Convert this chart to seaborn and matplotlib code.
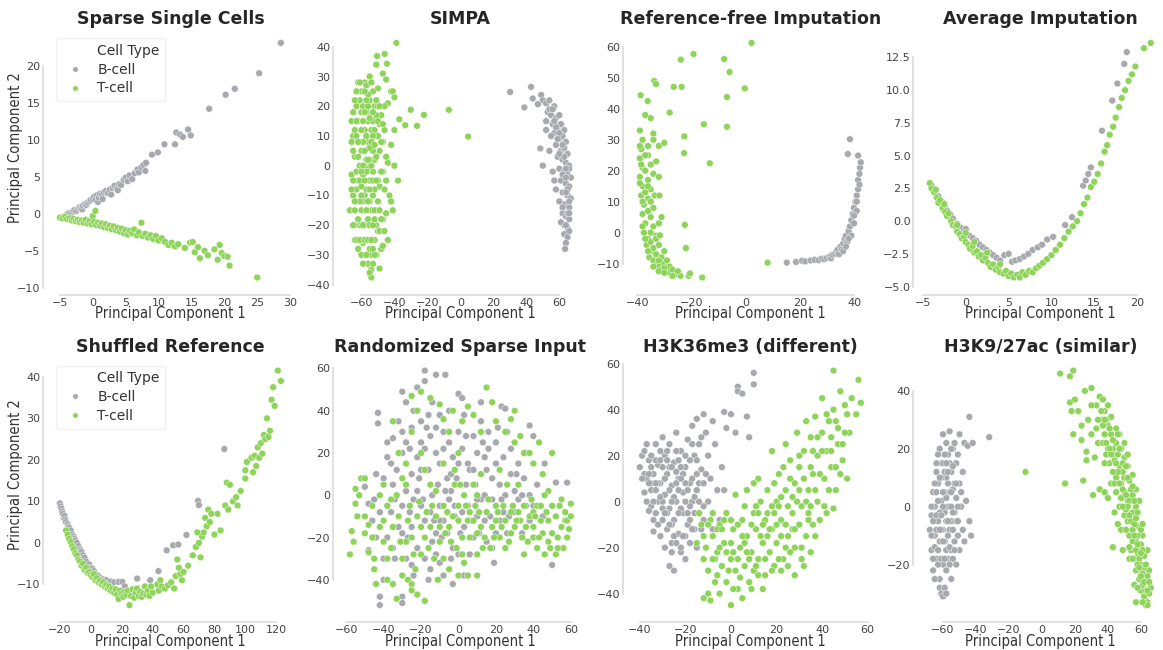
import matplotlib
matplotlib.use("Agg")
import matplotlib.pyplot as plt
import pandas as pd
import seaborn as sns
from matplotlib.lines import Line2D
from matplotlib.ticker import MultipleLocator

# ---- values (PC1, PC2) ----
titles = [
    "Sparse Single Cells", "SIMPA", "Reference-free Imputation", "Average Imputation",
    "Shuffled Reference", "Randomized Sparse Input", "H3K36me3 (different)", "H3K9/27ac (similar)",
]
cell_types = ["B-cell", "T-cell"]
x_steps = [5, 20, 20, 5, 20, 20, 20, 20]
y_steps = [5, 10, 10, 2.5, 10, 20, 20, 20]

sparse_b = [(-4.6,-0.4),(-4.2,-0.3),(-3.9,-0.1),(-3.6,0.1),(-3.3,0.0),(-3.0,0.3),(-2.8,0.5),(-2.5,0.4),
    (-2.2,0.7),(-2.0,0.9),(-1.8,0.8),(-1.6,0.6),(-1.5,1.1),(-1.2,1.3),(-1.0,1.2),(-0.8,1.5),(-0.5,1.7),
    (-0.3,1.9),(0.0,2.0),(0.2,2.3),(0.4,1.9),(0.6,2.5),(0.8,1.6),(0.9,2.2),(1.1,2.7),(1.4,2.6),(1.5,2.0),
    (1.7,2.9),(2.0,3.1),(2.3,2.8),(2.6,3.3),(2.8,2.6),(3.0,3.5),(3.3,3.8),(3.6,3.4),(3.8,3.2),(4.0,4.0),
    (4.3,3.9),(4.7,4.6),(5.0,4.9),(5.3,4.4),(5.6,5.2),(6.0,4.7),(6.4,5.5),(6.8,6.0),(7.0,5.6),(7.4,6.3),
    (7.7,6.6),(8.0,5.8),(8.1,6.9),(9.0,8.0),(9.9,8.3),(10.9,9.4),(12.5,9.4),(12.7,11.0),(13.3,10.7),
    (13.7,10.4),(14.5,11.4),(14.9,10.6),(17.7,14.2),(20.2,16.1),(21.6,16.9),(25.3,19.0),(28.6,23.1)]
sparse_t = [(-5.0,-0.5),(-4.6,-0.6),(-4.2,-0.4),(-3.9,-0.7),(-3.5,-0.6),(-3.2,-0.9),(-2.9,-0.7),(-2.6,-1.0),
    (-2.3,-0.8),(-2.0,-1.1),(-1.7,-0.9),(-1.4,-1.2),(-1.1,-0.8),(-0.8,-1.3),(-0.5,-1.0),(-0.2,-1.4),
    (0.0,-0.3),(0.2,-1.1),(0.4,0.4),(0.5,-1.5),(0.8,-1.2),(1.1,-1.6),(1.4,-1.3),(1.7,-1.8),(2.0,-1.4),
    (2.3,-1.9),(2.6,-1.6),(2.9,-2.1),(3.2,-1.7),(3.5,-2.2),(3.8,-1.9),(4.1,-2.4),(4.4,-2.0),(4.7,-2.6),
    (5.0,-2.2),(5.3,-2.8),(5.6,-2.3),(6.0,-2.6),(6.3,-2.1),(6.7,-2.9),(7.0,-2.5),(7.4,-1.2),(7.6,-3.0),
    (8.0,-2.7),(8.4,-3.2),(8.8,-2.9),(9.2,-3.4),(9.6,-3.0),(10.0,-3.6),(10.5,-3.3),(11.0,-3.8),(11.5,-4.2),
    (12.0,-3.9),(12.5,-4.4),(13.0,-4.1),(14.0,-4.6),(14.8,-3.9),(15.2,-3.8),(15.5,-5.2),(16.0,-4.5),
    (16.3,-6.0),(17.0,-5.0),(17.5,-5.6),(18.5,-4.8),(19.0,-6.2),(19.3,-4.2),(19.6,-5.3),(20.0,-5.7),
    (20.5,-5.8),(20.8,-7.0),(25.0,-8.6)]

simpa_b = [(30.2,24.8),(42.9,26.5),(38.8,19.6),(43.9,22.6),(47,20.7),(49,23.8),(50,22),(52,21),(54,22),
    (57,20),(53,18),(55,17),(58,16),(60,17),(56,14),(59,13),(61,14),(63,12),(57,11),(60,9),(62,10),(64,8),
    (58,7),(61,5),(63,6),(65,4),(59,3),(62,2),(64,1),(66,0),(60,-1),(63,-2),(65,-3),(67,-4),(61,-5),(64,-6),
    (66,-7),(62,-9),(65,-10),(67,-11),(63,-13),(66,-14),(62,-16),(64,-17),(66,-18),(63,-20),(65,-21),
    (63,-23),(65,-24),(64,-26),(63.5,-28),(48.5,5.8),(50,0),(52,12),(54,5),(56,-2),(58,-8),(60,-12),
    (52,15),(55,10),(57,-5),(61,-19),(66,-1),(54,19),(56,19),(58,13),(60,11),(62,7),(63,3),(64,-1),(65,-8),
    (66,-12),(64,-9),(62,-14),(65,-16),(64,-20),(66,-22),(62,-3),(60,4),(59,9),(57,15),(64,-4),(66,-16)]
simpa_t = [(-65,10),(-66,-3),(-67,-15),(-64,3),(-63,-8),(-62,15),(-61,-20),(-60,25),(-60,5),(-59,-12),
    (-58,28),(-58,0),(-57,-25),(-57,18),(-56,8),(-56,-18),(-55,-5),(-55,22),(-54,12),(-54,-30),(-53,-2),
    (-53,-10),(-52,20),(-52,2),(-51,-15),(-51,10),(-50,-22),(-50,26),(-49,5),(-49,-7),(-48,17),(-47,-2),
    (-46,12),(-45,-16),(-44,21),(-44,1),(-43,-10),(-42,25),(-42,7),(-41,-15),(-40,0),(-40,12),(-62,-28),
    (-63,20),(-64,-20),(-65,-10),(-61,0),(-59,-3),(-58,12),(-57,-8),(-56,-33),(-55,30),(-54,-35),(-53,5),
    (-52,-25),(-51,17),(-50,-5),(-49,14),(-48,-28),(-47,8),(-46,-8),(-45,3),(-61,8),(-60,-15),(-59,20),
    (-58,-20),(-57,2),(-56,15),(-55,-12),(-54,-20),(-53,25),(-52,-8),(-51,3),(-50,10),(-62,-5),(-60,-7),
    (-59,8),(-58,-30),(-57,27),(-56,-1),(-55,6),(-54,-15),(-53,18),(-52,12),(-51,-30),(-63,-2),(-64,12),
    (-61,-12),(-60,18),(-59,-26),(-58,5),(-57,-15),(-56,24),(-66,15),(-65,-20),(-64,-25),(-63,25),(-62,28),
    (-61,22),(-60,-25),(-59,-33),(-58,-10),(-57,10),(-56,-12),(-55,-20),(-54,0),(-53,15),(-52,-15),
    (-51,-20),(-50,20),(-49,-15),(-48,8),(-47,-18),(-46,20),(-45,-5),(-62,3),(-61,-5),(-60,12),(-59,0),
    (-58,-5),(-57,-2),(-56,20),(-55,-28),(-54,28),(-53,-20),(-52,-30),(-64,-12),(-65,5),(-63,15),(-60,-2),
    (-58,18),(-55,2),(-53,10),(-66,8),(-66,-8),(-65,-5),(-65,18),(-64,-15),(-64,22),(-63,10),(-63,-25),
    (-62,-18),(-62,8),(-61,-25),(-61,28),(-60,-10),(-60,-30),(-59,15),(-59,-20),(-58,-25),(-58,25),
    (-57,-30),(-57,22),(-56,-25),(-56,2),(-55,16),(-55,-8),(-54,-25),(-54,8),(-53,-28),(-53,-5),(-52,-18),
    (-52,7),(-51,-5),(-51,22),(-50,-12),(-50,15),(-49,-22),(-49,20),(-48,-2),(-48,-18),(-47,14),(-46,-22),
    (-38.8,41.3),(-45.9,37.6),(-50.5,36.9),(-44.5,34.3),(-51,34),(-47,31),
    (-45,29),(-41,25),(-40,23),(-37,15.6),(-33.4,13.6),(-30.1,18.8),(-26.3,13.4),(-22.1,17.1),(-7,18.8),
    (4.7,9.8),(-37.8,-5),(-42,-12),(-44,-25),(-47,-27),(-49,-34.6),(-54,-37.6),(-55,-36),(-53,-33)]

reffree_b = [(15.2,-9.7),(18.6,-9.5),(20.8,-9.1),(22,-9.3),(24,-9.0),(25.5,-8.8),(27,-8.9),(28,-8.4),
    (29,-8.6),(30,-8.2),(31,-7.8),(31.5,-8.3),(32,-7.2),(33,-6.8),(33.5,-6),(34,-5.5),(34.5,-7),(35,-4.5),
    (35.5,-5.5),(36,-3.5),(36.5,-2),(37,-1),(37.5,-3),(38,0.5),(38.5,2),(39,-1),(39,4),(39.5,6),(40,8),
    (40,3),(40.5,10),(41,12),(41,7),(41.5,14),(41.5,17),(42,19),(42,15.5),(42.2,21),(41,10),(40,5.5),
    (38.5,30.2),(37.7,25.4),(41.5,24.9),(42.5,22.7),(36,-6),(37,-4.5),(38,-2)]
reffree_t = [(-38,30),(-38.5,27),(-39,24),(-38,21),(-39,18),(-38,15),(-38.5,12),(-37.5,9),(-38,6),(-37,3),
    (-37.5,0),(-36,-2),(-36.5,-4),(-35,-6),(-35.5,-8),(-34,-9),(-33,-10.5),(-32,-11),(-31,-12),(-29,-12.5),
    (-28,-13),(-26,-13.5),(-24,-14),(-21,-14),(-20.5,-13.2),(-16,-14.5),(-36,28),(-36,25),(-35,22),(-34,19),
    (-36,17),(-35,14),(-36,11),(-34,8),(-35,5),(-34,2),(-33,-1),(-32,-4),(-33,-7),(-31,-8),(-30,-10),
    (-28,-11),(-27,-12),(-37,20),(-37,13),(-36,7),(-35,-3),(-34,-5),(-32,-9),(-30,-11.5),(-25,-12.5),
    (-33,23),(-32,18),(-34,32),(-34,30),(-33.5,12),(-31,5),(-32,3),(-33,-2),(-30,-6),(-29,-9),(-39,33),
    (-39,28),(-38.5,22),(-39,16),(-38,10),(-38,2),(-37,-2),(-36,-6),(-34,-11),(-32,-12.5),(-30,-13),
    (-27,-14),(-37,25),(-36,15),(-35,10),(-35,0),
    (-38.7,44.4),(-36.1,42.5),(-37,38),(-35,37),(-33.7,49),(-33,48),(-32,28),(-30,29),(-31.8,12),
    (-31.6,-0.9),(-28,38.8),(-26.5,47.1),(-23.6,47.1),(-23.9,55.9),(-19.2,57.7),(-22.6,31.1),(-22.7,25.7),
    (-22.4,2.5),(-22,-5),(-15.4,35),(-13.2,22.4),(-7.9,56.1),(-5.9,51.9),(-6.9,43.8),(-6.9,34.2),
    (-0.3,46.6),(2.2,61.3),(8.1,-9.7)]

average_b = [(-4.0,2.7),(-3.6,2.4),(-3.2,1.9),(-2.8,1.5),(-2.5,1.1),(-2.2,0.8),(-1.8,0.5),(-1.5,0.2),
    (-1.0,-0.2),(-0.6,-0.5),(-0.3,-0.8),(0.0,-0.6),(0.4,-1.1),(0.8,-1.3),(1.2,-1.5),(1.6,-1.8),(2.0,-2.0),
    (2.4,-2.2),(2.8,-2.4),(3.2,-2.6),(3.6,-2.8),(4.0,-3.0),(4.5,-2.6),(5.0,-2.5),(5.4,-3.1),(5.8,-3.0),
    (6.3,-2.9),(6.8,-2.7),(7.3,-2.5),(7.8,-2.2),(8.4,-2.0),(8.9,-1.8),(9.5,-1.4),(10.2,-1.2),(11.6,-0.3),
    (12.4,0.3),(13.7,2.7),(14.0,3.1),(14.3,3.6),(14.6,4.1),(15.9,6.9),(17.1,9.2),(17.7,10.5),(18.5,12.0),
    (18.8,12.9)]
average_t = [(-4.2,2.9),(-4.0,2.5),(-3.7,2.2),(-3.5,2.4),(-3.4,1.8),(-3.2,1.4),(-3.0,1.6),(-2.7,1.0),
    (-2.5,1.3),(-2.4,0.7),(-2.2,0.4),(-2.0,0.6),(-1.7,0.0),(-1.5,-0.3),(-1.2,-0.4),(-1.0,-0.8),(-1.0,-0.3),
    (-0.7,-1.0),(-0.5,-1.3),(-0.2,-1.2),(0.0,-1.6),(0.0,-0.9),(0.3,-1.8),(0.5,-2.1),(0.8,-1.9),(1.0,-2.4),
    (1.0,-1.6),(1.3,-2.3),(1.5,-2.7),(1.8,-2.6),(2.0,-3.0),(2.3,-2.8),(2.5,-2.4),(2.6,-3.2),(2.9,-3.5),
    (3.2,-3.3),(3.5,-3.7),(3.8,-3.5),(4.0,-3.9),(4.0,-3.3),(4.4,-4.0),(4.7,-3.8),(5.0,-4.2),(5.3,-4.0),
    (5.6,-4.3),(6.0,-4.1),(6.3,-4.3),(6.6,-3.9),(7.0,-4.1),(7.4,-3.8),(7.8,-3.9),(8.2,-3.6),(8.6,-3.4),
    (9.0,-3.2),(9.5,-2.9),(10.0,-2.6),(10.5,-2.2),(11.0,-1.8),(11.5,-1.3),(12.0,-0.8),(12.5,-0.4),
    (13.0,0.0),(13.4,0.6),(13.8,1.3),(14.2,1.8),(14.6,2.6),(15.0,3.0),(15.4,3.6),(15.8,4.4),(16.2,5.3),
    (16.5,5.8),(16.8,6.6),(17.2,7.2),(17.5,7.9),(17.9,8.7),(18.2,9.4),(18.6,10.0),(19.0,10.7),(19.4,11.2),
    (19.8,11.8),(20.8,13.2),(21.6,13.6)]

shuffled_b = [(-20,9.5),(-19.5,8.8),(-19,8.2),(-18.5,7.5),(-18,7.0),(-17.5,6.0),(-17,6.5),(-16.5,5.6),
    (-16,5.0),(-15,4.5),(-14.5,4.0),(-14,3.6),(-13,3.0),(-12,2.0),(-11,1.5),(-10.5,1.0),(-10,0.6),(-9,0.0),
    (-8,-0.8),(-7,-1.5),(-6.5,-1.8),(-6,-2.2),(-5,-3.0),(-4,-3.6),(-3,-4.5),(-1,-5.2),(0,-6.0),(1,-6.2),
    (2,-6.8),(3,-7.5),(5,-8.0),(6,-8.5),(8,-8.8),(10,-9.0),(13,-9.3),(15,-9.5),(18,-9.4),(20.4,-9.4),
    (22,-10.5),(30,-8.6),(38.5,-9.0),(43.8,-6.8),(49.1,-1.8),(53.4,-0.6),(56.6,-0.4),(61.9,1.9),
    (69.4,10.1),(70.0,9.1),(86.4,22.6)]
shuffled_t = [(-16,3.0),(-15,2.0),(-14,1.0),(-13,0.2),(-12,-0.8),(-11,-1.5),(-10,-2.5),(-9,-3.0),(-8,-4.0),
    (-7,-4.5),(-6,-5.5),(-5,-5.0),(-4,-6.5),(-3,-6.0),(-2,-7.2),(-1,-7.0),(0,-7.8),(1,-8.2),(2,-7.5),
    (3,-9.0),(4,-8.5),(5,-9.5),(6,-9.2),(7,-10.0),(8,-9.5),(9,-10.5),(10,-10.2),(11,-11.0),(12,-10.5),
    (13,-11.5),(14,-11.0),(15,-12.0),(16,-11.2),(17,-12.5),(18,-13.5),(19,-11.5),(20,-12.2),(21,-13.0),
    (22,-11.8),(23,-12.5),(24,-11.5),(25,-15.0),(26,-12.8),(27,-11.2),(28,-13.2),(29,-12.0),(30,-11.0),
    (31,-12.8),(32,-11.8),(33,-13.0),(34,-12.2),(35,-10.5),(36,-12.5),(37,-11.5),(38,-12.8),(39,-10.5),
    (40,-12.0),(43,-10.0),(44,-11.5),(45,-9.0),(46,-10.5),(48,-11.0),(50,-10.2),(52,-9.5),(54,-11.0),
    (55,-8.0),(56,-4.0),(57,-6.0),(58,-7.5),(59,-9.0),(60,-7.0),(63,-5.5),(66,-3.0),(68,-1.0),(69,2.5),
    (70,0.0),(71,-3.5),(72,1.5),(73,2.5),(74,6.0),(75,4.0),(76,8.0),(77,5.0),(78,7.0),(80,2.0),(82,7.0),
    (84,3.0),(87,9.0),(88,14.5),(89,8.0),(90,14.0),(92,10.0),(94,11.0),(95,9.0),(97,12.5),(100,15.5),
    (100,17.5),(101,19.5),(104,20.5),(105,17.0),(106,21.0),(107,18.5),(108,23.0),(109,20.5),(110,24.0),
    (111,21.5),(112,26.0),(113,25.0),(114,30.0),(115,25.5),(116,27.0),(117,34.5),(118,37.5),(119,33.0),
    (121,41.5),(123,39.0)]

random_b = [(-43,39),(-43,34),(-30,49),(-22,51),(-18,59),(-12,57),(-7,57),(-18,54),(-28,44),(-14,44),(0,48),
    (2,46),(12,44),(23,42),(25,41),(38,33),(40,28),(46,15),(52,6),(-5,40),(-10,38),(-20,35),(-25,32),
    (-30,30),(-35,27),(-38,18),(-40,8),(-45,-2),(-48,-4),(-50,4),(-46,-12),(-44,-20),(-48,-26),(-42,-48),
    (-42,-52),(-30,-48),(-30,-51),(-25,-33),(-28,-30),(-35,-25),(-38,-20),(-32,-15),(-30,-5),(-28,2),
    (-25,10),(-22,18),(-20,25),(-18,22),(-15,28),(-12,20),(-10,15),(-8,30),(-5,25),(-3,18),(0,30),(2,22),
    (5,15),(8,28),(10,20),(13,25),(15,12),(18,8),(20,15),(22,5),(25,0),(28,10),(30,2),(32,-2),(35,8),
    (38,0),(40,-5),(42,5),(45,-10),(-20,-5),(-18,-12),(-15,-8),(-12,-18),(-10,-5),(-8,-12),(-5,-2),
    (-3,-25),(-2,-10),(0,-28),(3,-15),(5,-5),(8,-20),(10,-10),(12,-2),(15,-22),(18,-25),(20,-18),
    (-25,-15),(-22,-25),(-15,-35),(-12,-28),(-8,-38),(-3,-42),(3,-38),(-35,5),(-33,12),(-26,22),(-16,12),
    (-6,8),(4,5),(14,0),(24,-8),(34,-18),(50,-33),(58,6),(-24,-2),(-14,0),(-4,2),(6,12),(16,22),(26,30),
    (-36,-8),(-40,-30),(-38,25),(-32,35),(-28,25),(-24,40),(-20,12),(-16,38),(-12,32),(-8,22),(-4,10),
    (0,15),(4,28),(8,12),(12,35),(16,30),(20,25),(24,18),(28,22),(32,15),(36,20),(-34,-2),(-30,-18),
    (-26,-8),(-22,2),(-18,-30),(-14,-22),(-10,-12),(-6,-18),(-2,-5),(2,-8),(6,-28),(10,-2),(14,-12),
    (18,-2),(22,-12),(26,-18),(30,-8),(34,0),(38,-12),(-16,-40),(-10,-32),(-44,10),(-42,-8),(-40,-40),
    (-36,15),(-34,-30),(-30,20),(-27,-20),(-24,-38),(-21,8),(-19,-2),(-17,32),(-13,-12),(-11,5),(-9,-20),
    (-7,2),(-4,-30),(-1,8),(1,-18),(3,38),(7,-12),(9,5),(11,-18),(14,18),(17,-10),(19,-32),(21,32),(23,-2),
    (27,-10),(31,10),(36,-5)]
random_t = [(-57,-17),(-56,-22),(-58,-28),(-55,3),(-52,8),(-50,8),(-53,0),(-55,-4),(-50,-18),(-48,-27),
    (-45,-35),(-45,-30),(-40,-22),(-38,-30),(-35,-42),(-33,-49),(-27,-40),(-25,-42),(-22,-47),(-18,-50),
    (-25,-45),(-40,-12),(-38,-5),(-35,-15),(-33,0),(-30,8),(-28,15),(-32,20),(-35,35),(-25,30),(-22,40),
    (-25,47),(-20,49),(-15,46),(-10,43),(-8,36),(-5,30),(-3,40),(2,35),(5,42),(8,38),(12,30),(15,51),
    (18,44),(20,35),(25,30),(28,36),(30,25),(33,28),(35,20),(38,20),(40,15),(43,25),(45,10),(48,2),(50,-5),
    (52,-10),(55,-15),(57,-8),(58,-20),(60,-4),(56,-25),(53,-25),(48,-22),(45,-18),(42,-25),(40,-15),
    (38,-10),(35,-5),(33,-12),(30,-15),(28,-8),(25,-12),(22,-20),(20,-5),(18,-15),(15,-8),(12,-15),(10,0),
    (8,5),(5,-12),(3,0),(0,-5),(-2,5),(-5,-15),(-8,-5),(-10,-22),(-12,-10),(-15,-15),(-18,-20),(-20,-28),
    (-22,-10),(-25,-20),(-28,-22),(-30,-30),(-8,-30),(-5,-35),(0,-38),(5,-38),(10,-28),(-15,5),(-18,12),
    (-12,2),(-8,15),(-2,12),(2,-20),(12,10),(22,12),(32,5),(42,-5),(46,-28),(35,-28),(25,-25),(0,20),
    (-20,20),(-42,0),(-46,-5),(30,40),(50,20),(10,-38),(-50,-10),(-46,-20),(-42,-15),(-40,5),(-36,-25),
    (-32,-10),(-30,-38),(-28,5),(-26,-5),(-24,-28),(-20,-15),(-16,-25),(-14,-5),(-10,-15),(-6,-8),
    (-4,-22),(0,-12),(2,-28),(4,-5),(6,-20),(8,-12),(10,-18),(14,-20),(16,-2),(20,-12),(24,-5),(26,5),
    (28,-18),(32,-8),(36,-15),(40,-8),(44,-12),(48,-12),(50,-18),(54,-5),(57,-12),(59,-16),(46,0),
    (52,-28),(40,-20),(-54,-10),(-48,-14),(-44,-42),(-38,-40),(-36,-2),(-31,-22),(-27,-12),(-23,-35),
    (-21,-3),(-17,-8),(-13,-30),(-11,-40),(-7,-18),(-3,-10),(-1,-25),(1,5),(3,-32),(6,-8),(9,-5),(11,-8),
    (13,-25),(17,-25),(19,-20),(21,-8),(23,-15),(27,-22),(29,-5),(31,-12),(34,-20),(37,-22),(39,-2),
    (41,-10),(43,-20),(47,-8),(49,-25),(53,-20),(55,-2),(58,-12),(60,-10),(44,-5)]

k36_b = [(-40,15),(-39,20),(-38,22),(-37,10),(-36,18),(-35,5),(-35,-2),(-34,12),(-33,25),(-33,-5),(-32,0),
    (-32,16),(-31,8),(-30,-8),(-30,28),(-29,3),(-29,20),(-28,-12),(-28,12),(-27,-3),(-27,25),(-26,7),
    (-26,-18),(-25,17),(-25,-8),(-24,0),(-24,30),(-23,-14),(-23,10),(-22,-22),(-22,22),(-21,4),(-21,-5),
    (-20,15),(-20,-25),(-19,27),(-19,-10),(-18,8),(-18,-18),(-17,33),(-17,0),(-16,20),(-16,-12),(-15,36),
    (-15,5),(-14,-5),(-14,25),(-13,14),(-12,38),(-12,-8),(-11,30),(-10,20),(-10,0),(-9,10),(-8,35),
    (-8,-12),(-7,25),(-6,5),(-5,-8),(-4,15),(-3,39),(-3,5),(-2,32),(0,38),(2,30),(3,50),(3,48),(5,47),
    (7,37),(8,28),(10,51),(10,56),(-36,-4),(-31,-15),(-27,-28),(-25,-30),(-22,-20),(-34,-13),(-26,-22),
    (-20,-15),(-29,-20),(-18,-2),(-24,13),(-30,15),(-35,8),(-38,4),(-33,18),(-28,22),(-23,5),(-20,0),
    (-15,12),(-12,-2),(-38,12),(-37,0),(-36,8),(-35,15),(-34,-8),(-33,5),(-32,-10),(-31,22),(-30,0),
    (-29,10),(-28,-5),(-27,15),(-26,-10),(-25,2),(-24,-18),(-23,18),(-22,-3),(-21,12),(-20,8),(-19,-5),
    (-18,18),(-17,-12),(-16,2),(-15,-20),(-14,8),(-13,-12),(-32,8),(-27,5),(-22,10),(-17,10),(-39,10),
    (-37,25),(-36,12),(-35,20),(-34,0),(-33,8),(-31,2),(-31,18),(-30,-3),(-29,-5),(-28,18),(-27,-10),
    (-26,15),(-26,0),(-25,-15),(-24,22),(-24,8),(-23,-5),(-22,15),(-21,-15),(-20,20),(-19,5),(-18,-8),
    (-17,25),(-16,-5),(-15,18),(-14,0),(-13,28),(-12,8),(-11,12)]
k36_t = [(-15,-18),(-14,-5),(-12,-25),(-12,-42),(-10,-30),(-9,-43),(-8,-15),(-8,-5),(-7,-35),(-6,-22),
    (-5,-10),(-5,-40),(-4,-28),(-3,-18),(-2,-5),(-2,-35),(0,-25),(0,-45),(1,-12),(2,-30),(2,3),(3,-38),
    (4,-20),(5,-8),(5,-42),(6,-28),(7,-15),(7,5),(8,-35),(9,-22),(10,-5),(10,-30),(11,-12),(12,10),(12,-25),
    (13,0),(14,-18),(15,-32),(15,-8),(16,5),(17,-22),(18,-12),(18,22),(19,-28),(20,0),(20,-18),(21,12),
    (22,-8),(23,-25),(24,5),(24,25),(25,-15),(26,18),(27,-5),(28,8),(28,-20),(29,30),(30,-10),(30,15),
    (31,-2),(32,22),(33,35),(33,-15),(34,5),(35,28),(35,-22),(36,12),(37,37),(38,0),(38,20),(39,-8),(40,30),
    (40,45),(41,10),(42,-5),(42,22),(43,35),(44,15),(45,40),(45,57),(46,5),(47,25),(48,48),(49,18),(50,42),
    (51,10),(52,30),(53,45),(55,38),(56,53),(57,43),(-10,-40),(-6,-12),(0,-18),(6,-2),(14,-38),(25,-28),
    (32,-28),(28,-32),(10,8),(18,-2),(22,-30),(36,-10),(-13,-10),(-11,-20),(-9,-8),(-7,-25),(-5,-20),
    (-3,-8),(-1,-30),(1,-22),(3,-10),(4,-33),(6,-18),(8,-25),(9,-10),(11,-2),(12,-32),(13,-15),(15,-25),
    (16,-5),(17,-12),(19,8),(20,-10),(21,-25),(22,2),(23,15),(24,-20),(25,-2),(26,10),(27,-12),(29,0),
    (30,20),(31,-20),(32,10),(34,-5),(35,15),(37,5),(38,28),(40,22),(42,38),(44,28),(46,35),(48,12),(50,30),
    (-12,-15),(-10,-10),(-8,-25),(-6,-32),(-4,-12),(-2,-22),(0,-8),(1,-38),(3,-25),(5,-15),(7,-22),(9,-38),
    (11,-28),(12,-5),(14,-10),(16,-15),(18,-30),(19,-5),(21,-2),(22,-15),(24,-10),(26,-22),(27,2),
    (28,-12),(30,5),(31,-25),(33,0),(34,-8),(36,22),(37,-15),(39,12),(41,-2),(43,5),(44,22),(46,15),
    (47,32),(49,25),(51,38),(45,-3),(35,-2)]

k27_b = [(-68,-8),(-67,-3),(-67,-15),(-66,5),(-66,-22),(-65,0),(-65,-10),(-64,12),(-64,-18),(-63,-5),
    (-63,8),(-62,20),(-62,-12),(-62,-25),(-61,2),(-61,15),(-60,-8),(-60,-20),(-60,25),(-59,5),(-59,-2),
    (-58,10),(-58,-15),(-58,22),(-57,18),(-57,0),(-56,-8),(-56,26),(-55,12),(-55,-5),(-55,-25),(-54,6),
    (-54,20),(-53,-12),(-53,-2),(-52,15),(-52,3),(-51,-10),(-50,8),(-50,25),(-49,0),(-48,-8),(-48,12),
    (-47,22),(-47,-12),(-46,2),(-45,21),(-44,31),(-44,-5),(-43,-10),(-42,22),(-32,24),(-62,-28),(-61,-30),
    (-60,-31),(-59,-28),(-58,-30),(-64,5),(-63,-20),(-61,10),(-59,18),(-57,-18),(-56,5),(-65,-14),(-60,0),
    (-58,3),(-54,-18),(-52,-20),(-62,-2),(-67,-10),(-66,-5),(-65,8),(-64,-3),(-63,2),(-62,10),(-61,-18),
    (-60,15),(-59,-12),(-58,-22),(-57,8),(-56,15),(-55,-15),(-54,-8),(-53,8),(-52,-5),(-51,18),(-50,-15),
    (-49,5),(-63,-15),(-61,-8),(-59,12),(-57,-10),(-56,-20),(-64,-8),(-60,5),(-58,-5),(-55,0),(-53,22),
    (-51,0),(-67,0),(-66,-18),(-65,-25),(-64,15),(-63,18),(-62,-8),(-61,-3),(-60,-12),(-59,-18),(-58,15),
    (-57,-5),(-57,12),(-56,-14),(-55,5),(-55,20),(-54,-2),(-54,14),(-53,-15),(-52,8),(-51,-5)]
k27_t = [(-10,12),(11,46),(17,45),(19,47),(26,40),(30,41),(17,36),(20,37),(18,33),(22,33),(24,28),(28,30),
    (19,25),(24,23),(27,16),(27,19),(32,17),(14,8),(25,9),(31,4),(33,35),(35,38),(37,37),(38,33),(40,35),
    (36,30),(40,28),(42,31),(38,25),(42,25),(45,27),(47,25),(40,20),(43,20),(45,22),(48,20),(50,22),(41,15),
    (44,16),(47,14),(50,17),(52,14),(45,10),(48,8),(50,10),(53,9),(55,11),(48,3),(50,5),(52,2),(55,4),
    (57,6),(35,6),(38,5),(40,3),(44,-2),(50,-3),(52,-5),(55,-2),(57,0),(59,2),(53,-10),(55,-8),(57,-12),
    (59,-7),(61,-10),(54,-15),(56,-18),(58,-16),(60,-20),(62,-17),(57,-22),(59,-25),(61,-23),(63,-26),
    (65,-22),(60,-29),(62,-31),(64,-33),(66,-28),(63,-34),(57,-33),(43,-14),(49,-15),(47,0),(42,8),(38,15),
    (34,22),(30,25),(45,5),(51,-1),(49,12),(53,-18),(56,-27),(60,-13),(64,-15),(36,33),(39,30),(41,27),
    (43,23),(44,18),(46,18),(47,20),(49,15),(51,14),(46,12),(52,10),(54,6),(49,6),(53,2),(56,2),(58,-2),
    (54,-5),(56,-6),(58,-10),(60,-8),(55,-12),(57,-15),(59,-18),(61,-15),(58,-20),(60,-24),(62,-21),
    (64,-24),(61,-27),(63,-29),(65,-30),(64,-34),(61,-33),(52,0),(48,-8),(46,-6),(44,8),(39,18),(37,22),
    (33,27),(30,35),(34,30),(37,28),(39,22),(41,20),(43,12),(45,15),(47,8),(49,0),(51,4),(51,-8),(53,-3),
    (53,-14),(55,-18),(56,-10),(57,-4),(58,-13),(59,-21),(60,-16),(61,-6),(62,-26),(63,-20),(64,-29),
    (65,-26),(58,-28),(55,7),(52,18),(46,25),(42,18),(38,30)]

panels = [
    (sparse_b, sparse_t), (simpa_b, simpa_t), (reffree_b, reffree_t), (average_b, average_t),
    (shuffled_b, shuffled_t), (random_b, random_t), (k36_b, k36_t), (k27_b, k27_t),
]
legend_panels = [0, 4]

palette = {"B-cell": "#a7a9ae", "T-cell": "#8fd45a"}

sns.set_theme(style="white")
plt.rcParams["font.family"] = ["DejaVu Sans"]

fig, axes = plt.subplots(2, 4, figsize=(11.63, 6.5), dpi=100)
fig.subplots_adjust(left=0.042, right=0.999, top=0.952, bottom=0.051, wspace=0.193, hspace=0.27)

label_font = dict(fontsize=10.5, fontstretch="condensed", color="#333333")

for i, (ax, title, (b_pts, t_pts)) in enumerate(zip(axes.flat, titles, panels)):
    df = pd.DataFrame(b_pts + t_pts, columns=["PC1", "PC2"])
    df["Cell Type"] = [cell_types[0]] * len(b_pts) + [cell_types[1]] * len(t_pts)
    sns.scatterplot(
        data=df, x="PC1", y="PC2", hue="Cell Type", hue_order=cell_types,
        palette=palette, s=24, linewidth=0.3, edgecolor="white",
        legend=(i in legend_panels), ax=ax,
    )
    ax.xaxis.set_major_locator(MultipleLocator(x_steps[i]))
    ax.yaxis.set_major_locator(MultipleLocator(y_steps[i]))
    ax.set_title(title, fontsize=12.5, fontweight="bold", pad=5)
    ax.set_xlabel("Principal Component 1", labelpad=-1, **label_font)
    ax.set_ylabel("Principal Component 2" if i % 4 == 0 else "", **label_font)
    ax.yaxis.set_label_coords(-0.105, 0.55)
    ax.tick_params(labelsize=8, colors="#444444", length=0, pad=2)
    sns.despine(ax=ax, offset=4, trim=True)
    for side in ("left", "bottom"):
        ax.spines[side].set_color("#dddddd")
    if i in legend_panels:
        # old seaborn style: the hue name sits in the label column
        handles, labels = ax.get_legend_handles_labels()
        blank = Line2D([], [], linestyle="none", marker=None)
        leg = ax.legend([blank] + handles, ["Cell Type"] + labels, loc="upper left",
                        fontsize=10, markerscale=0.8, frameon=True, borderpad=0.4,
                        handletextpad=0.6, labelspacing=0.35)
        leg.get_frame().set_edgecolor("#eeeeee")
        for t in leg.get_texts():
            t.set_color("#333333")

fig.savefig("out.png", dpi=100)
